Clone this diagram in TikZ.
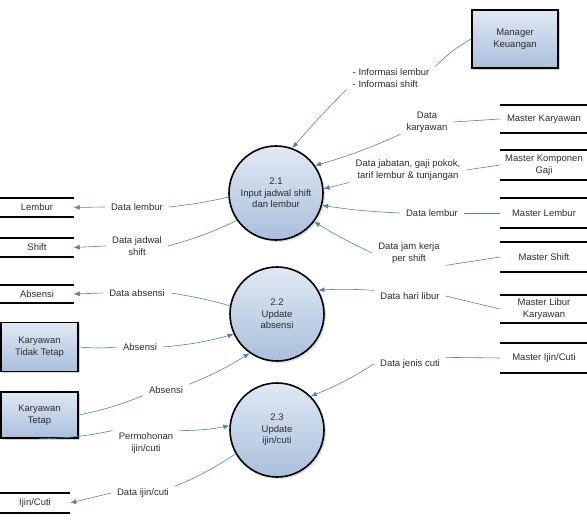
\documentclass[tikz,border=0pt]{standalone}
\usepackage{fontspec}
\setmainfont{Liberation Sans}
\usetikzlibrary{shadows,arrows.meta}

\definecolor{flowblue}{RGB}{79,129,189}
\definecolor{filltop}{RGB}{224,232,243}
\definecolor{fillbot}{RGB}{170,191,220}
\definecolor{txtgray}{RGB}{45,45,45}

\tikzset{
  flow/.style={draw=flowblue, line width=0.6pt},
  flowarr/.style={flow, -{Latex[length=6pt,width=5pt]}},
  proc/.style={circle, draw=black, line width=1.6pt, minimum size=94pt,
    top color=filltop, bottom color=fillbot, align=center,
    inner sep=0pt, drop shadow={opacity=0.25, shadow xshift=2pt, shadow yshift=-2pt}},
  entity/.style={rectangle, draw=black, line width=1.6pt, align=center,
    top color=filltop, bottom color=fillbot,
    drop shadow={opacity=0.35, shadow xshift=2pt, shadow yshift=-2pt}},
  store/.style={rectangle, align=center, inner sep=0pt,
    append after command={
      (\tikzlastnode.north west) edge[line width=2.2pt] (\tikzlastnode.north east)
      (\tikzlastnode.south west) edge[line width=2.2pt] (\tikzlastnode.south east)}},
  lbl/.style={align=center, inner xsep=6pt, inner ysep=2pt}
}

\begin{document}
\begin{tikzpicture}[x=1pt, y=-1pt, font=\fontsize{9.5}{11.5}\selectfont, text=txtgray]
  \useasboundingbox (0,0) rectangle (587,529);

  % processes
  \node[proc] (p21) at (276,193) {2.1\\Input jadwal shift\\dan lembur};
  \node[proc] (p22) at (277,314) {2.2\\Update\\absensi};
  \node[proc] (p23) at (277,430) {2.3\\Update\\ijin/cuti};

  % external entities
  \node[entity, minimum width=86pt, minimum height=58pt] (mgr) at (515,39) {Manager\\Keuangan};
  \node[entity, minimum width=77pt, minimum height=49pt] (kTT) at (39.5,347) {Karyawan\\Tidak Tetap};
  \node[entity, minimum width=77pt, minimum height=46pt] (kT) at (39.5,415) {Karyawan\\Tetap};

  % data stores, left
  \node[store, minimum width=73pt, minimum height=19pt] (sLembur) at (37,207.5) {Lembur};
  \node[store, minimum width=73pt, minimum height=19pt] (sShift) at (37,247.5) {Shift};
  \node[store, minimum width=73pt, minimum height=18pt] (sAbsensi) at (37,294) {Absensi};
  \node[store, minimum width=70pt, minimum height=20pt] (sIjin) at (35,503) {Ijin/Cuti};

  % data stores, right
  \node[store, minimum width=88pt, minimum height=28pt] (mKary) at (544,119) {Master Karyawan};
  \node[store, minimum width=88pt, minimum height=30pt] (mKomp) at (544,165) {Master Komponen\\Gaji};
  \node[store, minimum width=88pt, minimum height=30pt] (mLembur) at (544,213) {Master Lembur};
  \node[store, minimum width=88pt, minimum height=30pt] (mShift) at (544,257) {Master Shift};
  \node[store, minimum width=88pt, minimum height=28pt] (mLibur) at (544,309) {Master Libur\\Karyawan};
  \node[store, minimum width=88pt, minimum height=30pt] (mIjin) at (544,358) {Master Ijin/Cuti};

  % flow labels
  \node[lbl, align=left] (lInfo) at (391,78) {- Informasi lembur\\- Informasi shift};
  \node[lbl] (lKary) at (427,122) {Data\\karyawan};
  \node[lbl] (lKomp) at (408,170) {Data jabatan, gaji pokok,\\tarif lembur \& tunjangan};
  \node[lbl] (lLemburR) at (432,213) {Data lembur};
  \node[lbl] (lJam) at (409,253) {Data jam kerja\\per shift};
  \node[lbl] (lLibur) at (410,296) {Data hari libur};
  \node[lbl] (lJenis) at (410,364) {Data jenis cuti};
  \node[lbl] (lLemburL) at (137,207) {Data lembur};
  \node[lbl] (lShift) at (137,246) {Data jadwal\\shift};
  \node[lbl] (lAbs) at (137,293) {Data absensi};
  \node[lbl] (lAbsTT) at (140,347) {Absensi};
  \node[lbl] (lAbsT) at (166,390) {Absensi};
  \node[lbl] (lPerm) at (146,443) {Permohonan\\ijin/cuti};
  \node[lbl] (lIjin) at (143,493) {Data ijin/cuti};

  % flows into 2.1
  \draw[flow] (mgr.west) to[bend right=8] (lInfo.north east);
  \draw[flowarr] (lInfo.south west) to[bend right=2] (p21.70);
  \draw[flow] (mKary.west) -- (lKary.east);
  \draw[flowarr] (lKary.south west) to[bend left=4] (p21.35);
  \draw[flow] (mKomp.west) -- (lKomp.east);
  \draw[flowarr] (lKomp.south west) -- (p21.5);
  \draw[flow] (mLembur.west) -- (lLemburR.east);
  \draw[flowarr] (lLemburR.west) to[bend left=3] (p21.-15);
  \draw[flow] (mShift.west) -- (lJam.south east);
  \draw[flowarr] (lJam.west) to[bend left=3] (p21.-37);

  % flows out of 2.1
  \draw[flow] (p21.185) to[bend left=3] (lLemburL.east);
  \draw[flowarr] (lLemburL.west) -- (sLembur.east);
  \draw[flow] (p21.215) to[bend left=5] (lShift.east);
  \draw[flowarr] (lShift.west) -- (sShift.east);

  % flows around 2.2
  \draw[flow] (p22.170) to[bend right=3] (lAbs.east);
  \draw[flowarr] (lAbs.west) -- (sAbsensi.east);
  \draw[flow] (mLibur.west) -- (lLibur.east);
  \draw[flowarr] (lLibur.north west) to[bend right=3] (p22.30);
  \draw[flow] (kTT.east) to[bend right=5] (lAbsTT.west);
  \draw[flowarr] (lAbsTT.east) to[bend right=5] (p22.205);
  \draw[flow] (kT.east) to[bend right=5] (lAbsT.south west);
  \draw[flowarr] (lAbsT.north east) to[bend right=5] (p22.235);

  % flows around 2.3
  \draw[flow] (mIjin.west) -- (lJenis.north east);
  \draw[flowarr] (lJenis.west) to[bend left=5] (p23.45);
  \draw[flow] (kT.south) to[bend right=5] (lPerm.north west);
  \draw[flowarr] (lPerm.north east) to[bend right=5] (p23.175);
  \draw[flow] (p23.210) to[bend left=5] (lIjin.north east);
  \draw[flowarr] (lIjin.west) -- (sIjin.east);
\end{tikzpicture}
\end{document}
